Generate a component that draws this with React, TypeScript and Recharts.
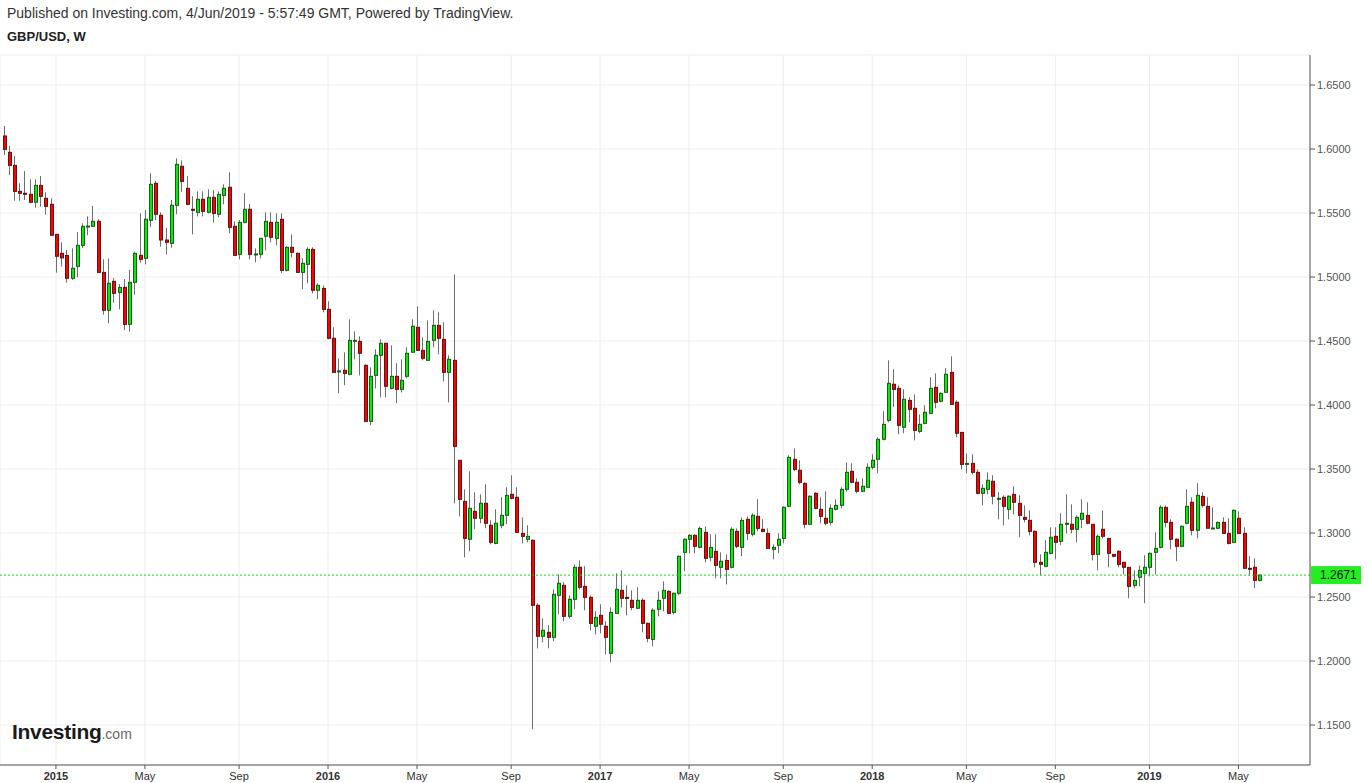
import React from 'react';
import { ComposedChart, Bar, XAxis, YAxis, CartesianGrid, ReferenceLine } from 'recharts';

// weekly GBP/USD candles, first bar = week of 27 Oct 2014
const START_DATE = '2014-10-27';

const opens = [
  1.6102, 1.5974, 1.5872, 1.5669, 1.5654, 1.5646, 1.5584, 1.5716, 1.5615, 1.5568,
  1.5333, 1.5185, 1.5169, 1.4990, 1.5083, 1.5247, 1.5396, 1.5396, 1.5435, 1.5036,
  1.4740, 1.4966, 1.4880, 1.4919, 1.4630, 1.4958, 1.5169, 1.5146, 1.5443, 1.5732,
  1.5482, 1.5289, 1.5263, 1.5560, 1.5865, 1.5693, 1.5529, 1.5505, 1.5607, 1.5505,
  1.5622, 1.5490, 1.5638, 1.5701, 1.5396, 1.5177, 1.5427, 1.5529, 1.5177, 1.5177,
  1.5318, 1.5427, 1.5302, 1.5451, 1.5052, 1.5232, 1.5185, 1.5036, 1.5099, 1.5216,
  1.4896, 1.4911, 1.4747, 1.4521, 1.4260, 1.4271, 1.4240, 1.4503, 1.4497, 1.4310,
  1.3872, 1.4232, 1.4388, 1.4482, 1.4130, 1.4224, 1.4122, 1.4224, 1.4412, 1.4607,
  1.4427, 1.4349, 1.4505, 1.4622, 1.4513, 1.4255, 1.4349, 1.3568, 1.3247, 1.2951,
  1.3169, 1.3115, 1.3232, 1.3060, 1.2919, 1.3060, 1.3138, 1.3302, 1.3279, 1.2997,
  1.2951, 1.2943, 1.2435, 1.2193, 1.2224, 1.2185, 1.2513, 1.2591, 1.2349, 1.2482,
  1.2732, 1.2583, 1.2497, 1.2271, 1.2357, 1.2271, 1.2060, 1.2372, 1.2552, 1.2497,
  1.2474, 1.2412, 1.2474, 1.2294, 1.2169, 1.2404, 1.2490, 1.2544, 1.2380, 1.2529,
  1.2849, 1.2951, 1.2982, 1.2888, 1.3005, 1.2810, 1.2857, 1.2732, 1.2786, 1.2732,
  1.3013, 1.2888, 1.3107, 1.2990, 1.3130, 1.3029, 1.2997, 1.2872, 1.2904, 1.2958,
  1.3209, 1.3576, 1.3490, 1.3388, 1.3068, 1.3310, 1.3185, 1.3115, 1.3083, 1.3185,
  1.3216, 1.3341, 1.3482, 1.3396, 1.3326, 1.3357, 1.3513, 1.3576, 1.3732, 1.3880,
  1.4162, 1.4130, 1.3826, 1.4036, 1.3974, 1.3794, 1.3857, 1.3935, 1.4138, 1.4029,
  1.4099, 1.4255, 1.4021, 1.3786, 1.3536, 1.3544, 1.3474, 1.3310, 1.3341, 1.3404,
  1.3263, 1.3279, 1.3185, 1.3302, 1.3232, 1.3122, 1.3099, 1.3013, 1.2771, 1.2740,
  1.2841, 1.2974, 1.2935, 1.3068, 1.3068, 1.3029, 1.3107, 1.3138, 1.3068, 1.2833,
  1.3029, 1.2958, 1.2833, 1.2857, 1.2771, 1.2732, 1.2591, 1.2654, 1.2685, 1.2732,
  1.2849, 1.2888, 1.3200, 1.3083, 1.2951, 1.2896, 1.3076, 1.3240, 1.3021, 1.3286,
  1.3208, 1.3037, 1.3037, 1.3083, 1.2997, 1.2927, 1.3115, 1.2997, 1.2724, 1.2732,
  1.2630,
];

const highs = [
  1.6180, 1.6024, 1.5945, 1.5732, 1.5828, 1.5763, 1.5763, 1.5789, 1.5661, 1.5615,
  1.5333, 1.5271, 1.5211, 1.5224, 1.5352, 1.5419, 1.5474, 1.5555, 1.5451, 1.5138,
  1.5145, 1.4992, 1.4945, 1.4984, 1.5055, 1.5198, 1.5497, 1.5523, 1.5810, 1.5750,
  1.5505, 1.5385, 1.5602, 1.5927, 1.5911, 1.5789, 1.5630, 1.5669, 1.5669, 1.5685,
  1.5680, 1.5669, 1.5724, 1.5818, 1.5435, 1.5445, 1.5654, 1.5570, 1.5224, 1.5302,
  1.5505, 1.5505, 1.5497, 1.5497, 1.5242, 1.5333, 1.5193, 1.5146, 1.5232, 1.5232,
  1.4951, 1.4935, 1.4810, 1.4607, 1.4365, 1.4411, 1.4669, 1.4575, 1.4536, 1.4318,
  1.4294, 1.4435, 1.4513, 1.4487, 1.4466, 1.4326, 1.4357, 1.4451, 1.4669, 1.4771,
  1.4529, 1.4661, 1.4740, 1.4724, 1.4646, 1.4388, 1.5021, 1.3568, 1.3341, 1.3482,
  1.3318, 1.3302, 1.3380, 1.3099, 1.3185, 1.3279, 1.3357, 1.3450, 1.3357, 1.3122,
  1.3060, 1.2951, 1.2451, 1.2333, 1.2279, 1.2560, 1.2677, 1.2615, 1.2513, 1.2755,
  1.2786, 1.2740, 1.2513, 1.2388, 1.2443, 1.2310, 1.2419, 1.2685, 1.2708, 1.2591,
  1.2552, 1.2576, 1.2490, 1.2299, 1.2412, 1.2544, 1.2622, 1.2552, 1.2534, 1.2823,
  1.2958, 1.2990, 1.2990, 1.3052, 1.3052, 1.2990, 1.2990, 1.2849, 1.2833, 1.3044,
  1.3036, 1.3122, 1.3130, 1.3154, 1.3263, 1.3107, 1.3036, 1.2911, 1.2997, 1.3209,
  1.3607, 1.3661, 1.3568, 1.3396, 1.3294, 1.3318, 1.3279, 1.3326, 1.3224, 1.3263,
  1.3357, 1.3552, 1.3544, 1.3427, 1.3427, 1.3544, 1.3615, 1.3747, 1.3951, 1.4349,
  1.4279, 1.4154, 1.4122, 1.4060, 1.4083, 1.3927, 1.3997, 1.4216, 1.4247, 1.4099,
  1.4287, 1.4380, 1.4036, 1.3786, 1.3622, 1.3615, 1.3497, 1.3380, 1.3474, 1.3451,
  1.3318, 1.3294, 1.3294, 1.3365, 1.3294, 1.3216, 1.3177, 1.3021, 1.2833, 1.2943,
  1.3044, 1.3044, 1.3154, 1.3302, 1.3224, 1.3138, 1.3263, 1.3240, 1.3068, 1.2990,
  1.3177, 1.2958, 1.2833, 1.2865, 1.2771, 1.2732, 1.2708, 1.2747, 1.2826, 1.2849,
  1.3005, 1.3216, 1.3216, 1.3107, 1.2958, 1.3060, 1.3341, 1.3279, 1.3388, 1.3318,
  1.3279, 1.3200, 1.3089, 1.3122, 1.3115, 1.3185, 1.3169, 1.3044, 1.2818, 1.2802,
  1.2677,
];

const lows = [
  1.5953, 1.5797, 1.5596, 1.5596, 1.5602, 1.5576, 1.5542, 1.5550, 1.5487, 1.5326,
  1.5034, 1.5081, 1.4956, 1.4977, 1.4998, 1.5227, 1.5326, 1.5393, 1.5036, 1.4706,
  1.4638, 1.4799, 1.4747, 1.4586, 1.4573, 1.4862, 1.5112, 1.5099, 1.5391, 1.5445,
  1.5237, 1.5177, 1.5229, 1.5490, 1.5667, 1.5560, 1.5333, 1.5474, 1.5474, 1.5497,
  1.5425, 1.5466, 1.5568, 1.5341, 1.5169, 1.5138, 1.5419, 1.5138, 1.5115, 1.5146,
  1.5208, 1.5271, 1.5247, 1.5029, 1.5044, 1.5154, 1.5036, 1.4904, 1.4951, 1.4872,
  1.4826, 1.4724, 1.4513, 1.4255, 1.4091, 1.4154, 1.4232, 1.4357, 1.4232, 1.3865,
  1.3841, 1.4130, 1.4060, 1.4060, 1.4122, 1.4013, 1.4099, 1.4208, 1.4412, 1.4427,
  1.4349, 1.4349, 1.4451, 1.4396, 1.4185, 1.4021, 1.3232, 1.3130, 1.2810, 1.2857,
  1.3029, 1.3076, 1.3037, 1.2912, 1.2912, 1.3037, 1.3068, 1.3263, 1.3005, 1.2919,
  1.2927, 1.1466, 1.2099, 1.2146, 1.2099, 1.2154, 1.2365, 1.2310, 1.2333, 1.2404,
  1.2560, 1.2396, 1.2240, 1.2208, 1.2216, 1.2052, 1.1990, 1.2372, 1.2419, 1.2357,
  1.2396, 1.2404, 1.2224, 1.2146, 1.2115, 1.2349, 1.2388, 1.2372, 1.2365, 1.2513,
  1.2701, 1.2841, 1.2841, 1.2880, 1.2771, 1.2779, 1.2646, 1.2646, 1.2599, 1.2724,
  1.2880, 1.2818, 1.2943, 1.2974, 1.3013, 1.3005, 1.2880, 1.2794, 1.2841, 1.2919,
  1.3201, 1.3482, 1.3380, 1.3036, 1.3063, 1.3185, 1.3076, 1.3060, 1.3060, 1.3177,
  1.3193, 1.3323, 1.3388, 1.3310, 1.3318, 1.3357, 1.3497, 1.3466, 1.3724, 1.3865,
  1.3985, 1.3771, 1.3779, 1.3865, 1.3724, 1.3779, 1.3849, 1.3927, 1.3974, 1.4021,
  1.4099, 1.4005, 1.3747, 1.3497, 1.3466, 1.3458, 1.3302, 1.3216, 1.3302, 1.3224,
  1.3107, 1.3060, 1.3107, 1.3146, 1.2966, 1.3083, 1.2982, 1.2732, 1.2669, 1.2732,
  1.2833, 1.2794, 1.2904, 1.2997, 1.2997, 1.2927, 1.3037, 1.3068, 1.2786, 1.2708,
  1.2958, 1.2732, 1.2810, 1.2732, 1.2677, 1.2490, 1.2568, 1.2583, 1.2451, 1.2661,
  1.2677, 1.2880, 1.3044, 1.2872, 1.2779, 1.2888, 1.3068, 1.2982, 1.2958, 1.3200,
  1.3037, 1.3031, 1.3029, 1.2997, 1.2911, 1.2919, 1.2997, 1.2724, 1.2669, 1.2568,
  1.2622,
];

const closes = [
  1.5997, 1.5872, 1.5669, 1.5654, 1.5646, 1.5584, 1.5716, 1.5630, 1.5552, 1.5326,
  1.5162, 1.5149, 1.4990, 1.5068, 1.5247, 1.5396, 1.5398, 1.5435, 1.5036, 1.4740,
  1.4951, 1.4872, 1.4919, 1.4630, 1.4958, 1.5185, 1.5138, 1.5451, 1.5724, 1.5490,
  1.5289, 1.5271, 1.5560, 1.5880, 1.5747, 1.5568, 1.5521, 1.5607, 1.5513, 1.5622,
  1.5497, 1.5646, 1.5693, 1.5388, 1.5169, 1.5427, 1.5529, 1.5177, 1.5180, 1.5302,
  1.5435, 1.5310, 1.5427, 1.5052, 1.5232, 1.5193, 1.5036, 1.5107, 1.5216, 1.4896,
  1.4935, 1.4747, 1.4521, 1.4255, 1.4266, 1.4247, 1.4505, 1.4505, 1.4404, 1.3872,
  1.4224, 1.4388, 1.4482, 1.4146, 1.4224, 1.4122, 1.4193, 1.4404, 1.4615, 1.4427,
  1.4365, 1.4497, 1.4622, 1.4521, 1.4255, 1.4357, 1.3677, 1.3263, 1.2958, 1.3193,
  1.3115, 1.3232, 1.3076, 1.2927, 1.3076, 1.3138, 1.3294, 1.3271, 1.3005, 1.2974,
  1.2974, 1.2435, 1.2193, 1.2240, 1.2185, 1.2521, 1.2607, 1.2349, 1.2482, 1.2732,
  1.2576, 1.2497, 1.2294, 1.2341, 1.2287, 1.2185, 1.2380, 1.2560, 1.2490, 1.2490,
  1.2419, 1.2474, 1.2294, 1.2177, 1.2396, 1.2474, 1.2552, 1.2372, 1.2529, 1.2818,
  1.2951, 1.2982, 1.2896, 1.3036, 1.2802, 1.2888, 1.2747, 1.2779, 1.2716, 1.3029,
  1.2896, 1.3099, 1.2997, 1.3138, 1.3036, 1.3013, 1.2880, 1.2888, 1.2951, 1.3201,
  1.3591, 1.3497, 1.3396, 1.3068, 1.3287, 1.3193, 1.3130, 1.3076, 1.3193, 1.3216,
  1.3341, 1.3474, 1.3396, 1.3326, 1.3365, 1.3513, 1.3568, 1.3732, 1.3849, 1.4169,
  1.4122, 1.3841, 1.4044, 1.3966, 1.3802, 1.3849, 1.3943, 1.4130, 1.4021, 1.4091,
  1.4240, 1.4005, 1.3779, 1.3536, 1.3544, 1.3474, 1.3310, 1.3349, 1.3412, 1.3287,
  1.3271, 1.3208, 1.3287, 1.3240, 1.3138, 1.3107, 1.3013, 1.2771, 1.2755, 1.2849,
  1.2966, 1.2927, 1.3068, 1.3076, 1.3029, 1.3122, 1.3154, 1.3076, 1.2833, 1.2974,
  1.2974, 1.2841, 1.2818, 1.2755, 1.2732, 1.2583, 1.2630, 1.2708, 1.2732, 1.2841,
  1.2880, 1.3200, 1.3083, 1.2951, 1.2896, 1.3052, 1.3208, 1.3021, 1.3294, 1.3216,
  1.3037, 1.3039, 1.3083, 1.2997, 1.2919, 1.3177, 1.2997, 1.2724, 1.2716, 1.2630,
  1.2671,
];

const tickDates = [
  '2015-01-05', '2015-05-04', '2015-09-07', '2016-01-04', '2016-05-02', '2016-09-05',
  '2017-01-02', '2017-05-01', '2017-09-04', '2018-01-01', '2018-05-07', '2018-09-03',
  '2019-01-07', '2019-05-06',
];
const tickLabels = ['2015', 'May', 'Sep', '2016', 'May', 'Sep', '2017', 'May', 'Sep', '2018', 'May', 'Sep', '2019', 'May'];
const priceTicks = [1.15, 1.2, 1.25, 1.3, 1.35, 1.4, 1.45, 1.5, 1.55, 1.6, 1.65];
const lastPrice = 1.2671;

const FONT = '"Liberation Sans", Arial, sans-serif';

const weekDates = opens.map((_, i) => {
  const d = new Date(START_DATE + 'T00:00:00Z');
  d.setUTCDate(d.getUTCDate() + i * 7);
  return d.toISOString().slice(0, 10);
});

const data = weekDates.map((date, i) => ({
  date,
  open: opens[i],
  high: highs[i],
  low: lows[i],
  close: closes[i],
  range: [lows[i], highs[i]],
}));

const labelFor: Record<string, string> = {};
tickDates.forEach((d, i) => { labelFor[d] = tickLabels[i]; });

const Candle = (props: any) => {
  const { x, y, width, height, payload } = props;
  if (!payload) return null;
  const { open, close, high, low } = payload;
  const top = Math.min(y, y + height);
  const h = Math.abs(height);
  const toY = (p: number) => top + ((high - p) / (high - low)) * h;
  const rc = Math.round(x + width / 2);
  const up = close >= open;
  const bTop = toY(Math.max(open, close));
  const bBot = toY(Math.min(open, close));
  return (
    <g>
      <line x1={rc + 0.5} x2={rc + 0.5} y1={top} y2={top + h} stroke="#6e6e6e" strokeWidth={1} />
      <rect
        x={rc - 0.5}
        y={bTop}
        width={3}
        height={Math.max(bBot - bTop, 1)}
        fill={up ? '#00ee00' : '#ff0000'}
        stroke={up ? '#1c5a1c' : '#5c1414'}
        strokeWidth={1}
      />
    </g>
  );
};

const XTick = ({ x, y, payload }: any) => {
  const label = labelFor[payload.value] || '';
  const isYear = /^\d{4}$/.test(label);
  return (
    <text x={x} y={y + 9} textAnchor="middle" fontSize={11} fontFamily={FONT}
      fontWeight={isYear ? 'bold' : 'normal'} fill="#333">
      {label}
    </text>
  );
};

const PriceTag = ({ viewBox }: any) => {
  const left = viewBox.x + viewBox.width;
  const y = viewBox.y;
  return (
    <g>
      <rect x={left + 1} y={y - 9} width={50} height={18} fill="#22ee22" />
      <text x={left + 10} y={y + 4} fontSize={12} fontFamily={FONT} fill="#111">
        {lastPrice.toFixed(4)}
      </text>
    </g>
  );
};

export default function App() {
  return (
    <div style={{ position: 'absolute', left: 0, top: 0, width: 1369, height: 783, background: '#fff', fontFamily: FONT }}>
      <div style={{ position: 'absolute', left: 7, top: 5, fontSize: 14, color: '#333' }}>
        Published on Investing.com, 4/Jun/2019 - 5:57:49 GMT, Powered by TradingView.
      </div>
      <div style={{ position: 'absolute', left: 7, top: 29, fontSize: 13, fontWeight: 'bold', color: '#222' }}>
        GBP/USD, W
      </div>
      <ComposedChart width={1369} height={783} data={data} margin={{ top: 55, right: 0, bottom: 0, left: 0 }}>
        <CartesianGrid stroke="#ededed" />
        <XAxis
          dataKey="date"
          type="category"
          ticks={tickDates}
          interval={0}
          height={18}
          padding={{ left: 1, right: 48 }}
          tick={<XTick />}
          tickLine={{ stroke: '#555' }}
          tickSize={4}
          axisLine={{ stroke: '#555' }}
        />
        <YAxis
          orientation="right"
          width={59}
          domain={[1.11875, 1.67344]}
          allowDataOverflow
          ticks={priceTicks}
          interval={0}
          tickFormatter={(v: number) => v.toFixed(4)}
          tick={{ fontSize: 11, fill: '#555', fontFamily: FONT }}
          tickLine={{ stroke: '#555' }}
          tickSize={5}
          axisLine={{ stroke: '#555' }}
        />
        <Bar dataKey="range" shape={<Candle />} isAnimationActive={false} />
        <ReferenceLine y={lastPrice} stroke="#22cc22" strokeDasharray="2 2" label={<PriceTag />} />
      </ComposedChart>
      <div style={{ position: 'absolute', left: 12, top: 720, whiteSpace: 'nowrap' }}>
        <span style={{ fontSize: 21, fontWeight: 'bold', color: '#1a1a1a', letterSpacing: -0.3 }}>Investing</span>
        <span style={{ fontSize: 14, color: '#666' }}>.com</span>
      </div>
    </div>
  );
}
